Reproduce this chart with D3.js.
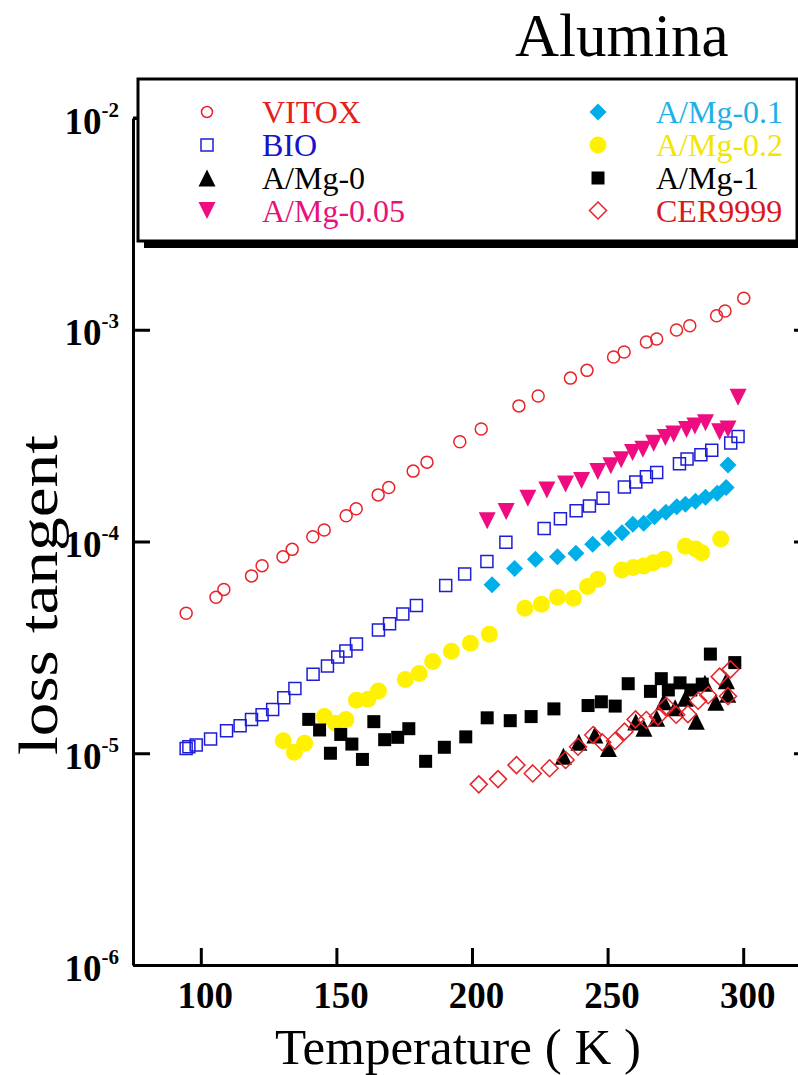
<!DOCTYPE html>
<html>
<head>
<meta charset="utf-8">
<script src="https://cdn.jsdelivr.net/npm/d3@7"></script>
<style>
  body { margin: 0; background: #fff; }
  text { font-family: "Liberation Serif", "Times New Roman", serif; }
</style>
</head>
<body>
<div id="d3-container"></div>
<script>
/**
 * CONSTANTS AND GLOBALS
 * */
const width = 798,
  height = 1075,
  margin = { top: 118, bottom: 110, left: 133, right: -13 };

/**
 * DATA
 * */
const vitoxT = [94.6, 105.6, 108.5, 118.7, 122.6, 130.3, 133.7, 141.3, 145.5, 153.6, 157.3, 165.4, 169.3, 178.3, 183.4, 195.5, 203.4, 217.3, 224.4, 236.3, 242.4, 252.2, 256.1, 264.3, 268.1, 275.4, 280.3, 290.2, 293.3, 300.2];
const vitoxV = [4.58e-5, 5.45e-5, 5.94e-5, 6.88e-5, 7.69e-5, 8.48e-5, 9.18e-5, 1.054e-4, 1.133e-4, 1.324e-4, 1.429e-4, 1.66e-4, 1.80e-4, 2.15e-4, 2.37e-4, 2.96e-4, 3.40e-4, 4.37e-4, 4.87e-4, 5.91e-4, 6.43e-4, 7.43e-4, 7.85e-4, 8.75e-4, 9.04e-4, 9.97e-4, 1.045e-3, 1.164e-3, 1.227e-3, 1.41e-3];

const bioT = [94.6, 95.6, 98.3, 103.6, 109.5, 114.5, 118.7, 122.6, 126.5, 130.6, 134.7, 141.4, 146.7, 150.5, 153.5, 157.4, 165.5, 169.6, 174.5, 179.5, 190.3, 197.3, 205.5, 212.5, 226.6, 232.6, 238.4, 243.3, 248.3, 256.2, 260.4, 264.3, 268.1, 276.5, 279.3, 284.4, 288.4, 295.4, 298.1];
const bioV = [1.054e-5, 1.074e-5, 1.094e-5, 1.167e-5, 1.277e-5, 1.348e-5, 1.445e-5, 1.52e-5, 1.61e-5, 1.83e-5, 2.02e-5, 2.36e-5, 2.58e-5, 2.85e-5, 3.04e-5, 3.28e-5, 3.82e-5, 4.09e-5, 4.55e-5, 4.98e-5, 6.19e-5, 7.03e-5, 8.04e-5, 9.91e-5, 1.153e-4, 1.282e-4, 1.398e-4, 1.472e-4, 1.60e-4, 1.81e-4, 1.91e-4, 2.02e-4, 2.12e-4, 2.33e-4, 2.45e-4, 2.57e-4, 2.70e-4, 2.92e-4, 3.13e-4];

const mg005T = [205.6, 212.6, 220.6, 227.6, 234.5, 240.4, 246.4, 251.2, 255.0, 259.2, 263.0, 267.0, 271.3, 274.4, 279.1, 282.2, 286.1, 291.3, 294.4, 298.1];
const mg005V = [1.253e-4, 1.384e-4, 1.60e-4, 1.75e-4, 1.87e-4, 1.94e-4, 2.14e-4, 2.28e-4, 2.43e-4, 2.63e-4, 2.73e-4, 2.91e-4, 3.10e-4, 3.22e-4, 3.38e-4, 3.51e-4, 3.64e-4, 3.30e-4, 3.40e-4, 4.80e-4];

const mg01T = [207.4, 215.7, 223.4, 231.5, 238.3, 244.5, 250.4, 255.3, 259.3, 263.3, 267.3, 271.5, 275.5, 278.7, 282.4, 286.1, 290.4, 293.7, 294.4];
const mg01V = [6.24e-5, 7.46e-5, 8.24e-5, 8.48e-5, 8.80e-5, 9.70e-5, 1.035e-4, 1.10e-4, 1.206e-4, 1.22e-4, 1.31e-4, 1.374e-4, 1.46e-4, 1.50e-4, 1.55e-4, 1.62e-4, 1.69e-4, 1.80e-4, 2.30e-4];

const mg02T = [130.4, 134.5, 138.3, 145.6, 149.7, 153.5, 157.4, 161.6, 165.5, 175.4, 180.5, 185.5, 192.4, 199.4, 206.4, 219.5, 225.6, 231.5, 237.4, 242.6, 246.4, 255.2, 259.5, 263.3, 266.9, 270.9, 278.7, 282.5, 284.7, 291.7];
const mg02V = [1.145e-5, 1.01e-5, 1.114e-5, 1.49e-5, 1.384e-5, 1.445e-5, 1.78e-5, 1.80e-5, 1.97e-5, 2.23e-5, 2.38e-5, 2.71e-5, 3.03e-5, 3.31e-5, 3.65e-5, 4.84e-5, 5.05e-5, 5.45e-5, 5.39e-5, 6.13e-5, 6.63e-5, 7.33e-5, 7.53e-5, 7.66e-5, 7.94e-5, 8.24e-5, 9.49e-5, 9.22e-5, 8.86e-5, 1.028e-4];

const mg1T = [139.8, 143.8, 147.8, 151.6, 155.7, 159.6, 163.8, 167.8, 172.6, 176.7, 182.9, 189.8, 197.7, 205.6, 214.1, 221.8, 230.2, 242.8, 247.7, 252.8, 257.6, 265.8, 269.8, 272.4, 276.7, 280.7, 284.9, 287.9, 296.9];
const mg1V = [1.445e-5, 1.288e-5, 1.00e-5, 1.227e-5, 1.105e-5, 9.35e-6, 1.41e-5, 1.159e-5, 1.189e-5, 1.306e-5, 9.16e-6, 1.067e-5, 1.195e-5, 1.47e-5, 1.425e-5, 1.49e-5, 1.62e-5, 1.68e-5, 1.75e-5, 1.67e-5, 2.13e-5, 1.96e-5, 2.25e-5, 1.99e-5, 2.15e-5, 1.99e-5, 2.12e-5, 2.94e-5, 2.68e-5];

const mg0T = [233.7, 239.4, 245.3, 250.3, 260.4, 263.4, 268.1, 270.7, 274.9, 278.7, 282.7, 285.9, 289.9, 293.8, 294.3];
const mg0V = [9.68e-6, 1.127e-5, 1.219e-5, 1.054e-5, 1.406e-5, 1.312e-5, 1.462e-5, 1.75e-5, 1.64e-5, 1.82e-5, 1.416e-5, 2.14e-5, 1.74e-5, 2.20e-5, 1.90e-5];

const cerT = [202.5, 209.6, 216.4, 222.4, 228.6, 234.5, 239.1, 244.7, 248.0, 252.7, 256.2, 260.3, 264.3, 268.6, 271.7, 275.3, 279.6, 283.4, 287.1, 291.3, 294.4, 295.3];
const cerV = [7.13e-6, 7.55e-6, 8.79e-6, 8.03e-6, 8.49e-6, 9.29e-6, 1.074e-5, 1.219e-5, 1.127e-5, 1.143e-5, 1.265e-5, 1.445e-5, 1.435e-5, 1.49e-5, 1.67e-5, 1.52e-5, 1.53e-5, 1.77e-5, 1.88e-5, 2.30e-5, 1.86e-5, 2.49e-5];

const xTicks = [100, 150, 200, 250, 300];
const yTicks = [1e-2, 1e-3, 1e-4, 1e-5, 1e-6];

/**
 * MARKER SHAPES
 * size is used as the full width of the marker, not an area
 * */
const shapes = {
  circle: { draw(ctx, w) { ctx.moveTo(w / 2, 0); ctx.arc(0, 0, w / 2, 0, 2 * Math.PI); } },
  square: { draw(ctx, w) { ctx.rect(-w / 2, -w / 2, w, w); } },
  triUp: { draw(ctx, w) { ctx.moveTo(0, -w / 2); ctx.lineTo(w / 2, w / 2); ctx.lineTo(-w / 2, w / 2); ctx.closePath(); } },
  triDown: { draw(ctx, w) { ctx.moveTo(-w / 2, -w / 2); ctx.lineTo(w / 2, -w / 2); ctx.lineTo(0, w / 2); ctx.closePath(); } },
  diamond: { draw(ctx, w) { ctx.moveTo(0, -w / 2); ctx.lineTo(w / 2, 0); ctx.lineTo(0, w / 2); ctx.lineTo(-w / 2, 0); ctx.closePath(); } },
};

// draw order follows the reference (diamonds end up on top)
const series = [
  { name: "VITOX", T: vitoxT, V: vitoxV, shape: "circle", size: 12, fill: "none", stroke: "#e8232a", text: "#e3201b", legend: [0, 0] },
  { name: "BIO", T: bioT, V: bioV, shape: "square", size: 12, fill: "none", stroke: "#1e1ed6", text: "#1414cc", legend: [0, 1] },
  { name: "A/Mg-0.05", T: mg005T, V: mg005V, shape: "triDown", size: 17, fill: "#ee0c80", stroke: "none", text: "#e8127c", legend: [0, 3] },
  { name: "A/Mg-0.1", T: mg01T, V: mg01V, shape: "diamond", size: 17, fill: "#00aee8", stroke: "none", text: "#1eb0e6", legend: [1, 0] },
  { name: "A/Mg-0.2", T: mg02T, V: mg02V, shape: "circle", size: 17, fill: "#fff200", stroke: "none", text: "#f2e600", legend: [1, 1] },
  { name: "A/Mg-1", T: mg1T, V: mg1V, shape: "square", size: 13, fill: "#000", stroke: "none", text: "#000", legend: [1, 2] },
  { name: "A/Mg-0", T: mg0T, V: mg0V, shape: "triUp", size: 17, fill: "#000", stroke: "none", text: "#000", legend: [0, 2] },
  { name: "CER9999", T: cerT, V: cerV, shape: "diamond", size: 17, fill: "none", stroke: "#e8232a", text: "#d81a1a", legend: [1, 3] },
];

/**
 * SCALES
 * */
const x = d3.scaleLinear().domain([75, 325]).range([margin.left, width - margin.right]);
const y = d3.scaleLog().domain([1e-6, 1e-2]).range([height - margin.bottom, margin.top]);

const svg = d3.select("#d3-container")
  .append("svg")
  .attr("width", width)
  .attr("height", height);

/**
 * AXES (ticks point inward)
 * */
const axisStyle = g => {
  g.select(".domain").attr("stroke-width", 3);
  g.selectAll(".tick line").attr("stroke-width", 3);
};

svg.append("g")
  .attr("transform", `translate(0,${y(1e-6)})`)
  .call(d3.axisBottom(x).tickValues(xTicks).tickSizeInner(-17).tickSizeOuter(0))
  .call(axisStyle)
  .call(g => g.selectAll(".tick text")
    .attr("y", 43).attr("dy", null).attr("dx", 4)
    .attr("font-size", 37).attr("font-weight", "bold")
    .attr("font-family", "Liberation Serif, serif"));

svg.append("g")
  .attr("transform", `translate(${margin.left},0)`)
  .call(d3.axisLeft(y).tickValues(yTicks).tickSizeInner(-17).tickSizeOuter(0).tickFormat(""))
  .call(axisStyle);

svg.append("g")
  .attr("transform", `translate(${width - margin.right},0)`)
  .call(d3.axisRight(y).tickValues(yTicks).tickSizeInner(-17).tickSizeOuter(0).tickFormat(""))
  .call(axisStyle);

// top frame line (mostly hidden behind the legend)
svg.append("line")
  .attr("x1", margin.left).attr("x2", width - margin.right)
  .attr("y1", y(1e-2)).attr("y2", y(1e-2))
  .attr("stroke", "#000").attr("stroke-width", 3);

// y tick labels as 10 with a superscript exponent
const yLab = svg.append("g")
  .selectAll("text")
  .data(yTicks)
  .join("text")
  .attr("x", 119)
  .attr("y", d => y(d) + 15.5)
  .attr("text-anchor", "end")
  .attr("font-weight", "bold");
yLab.append("tspan").attr("font-size", 37).text("10");
yLab.append("tspan").attr("font-size", 21).attr("dy", -17).text(d => Math.round(Math.log10(d)));

/**
 * DATA POINTS
 * */
const symbol = d3.symbol();

series.forEach(s => {
  svg.append("g")
    .selectAll("path")
    .data(d3.zip(s.T, s.V))
    .join("path")
    .attr("transform", d => `translate(${x(d[0])},${y(d[1])})`)
    .attr("d", symbol.type(shapes[s.shape]).size(s.size)())
    .attr("fill", s.fill)
    .attr("stroke", s.stroke)
    .attr("stroke-width", 1.5);
});

/**
 * LEGEND
 * */
const lg = { x: 138, y: 79, w: 659, h: 162 };

svg.append("rect")
  .attr("x", lg.x + 6).attr("y", lg.y + 7)
  .attr("width", lg.w).attr("height", lg.h)
  .attr("fill", "#000");
svg.append("rect")
  .attr("x", lg.x).attr("y", lg.y)
  .attr("width", lg.w).attr("height", lg.h)
  .attr("fill", "#fff").attr("stroke", "#000").attr("stroke-width", 3);

const colSym = [207, 598],
  colText = [262, 656],
  rowY = [112, 145, 178, 210.5];

const items = svg.append("g")
  .selectAll("g")
  .data(series)
  .join("g");

items.append("path")
  .attr("transform", d => `translate(${colSym[d.legend[0]]},${rowY[d.legend[1]]})`)
  .attr("d", d => symbol.type(shapes[d.shape]).size(d.shape === "circle" && d.fill === "none" ? 11 : d.size)())
  .attr("fill", d => d.fill)
  .attr("stroke", d => d.stroke)
  .attr("stroke-width", 1.5);

items.append("text")
  .attr("x", d => colText[d.legend[0]])
  .attr("y", d => rowY[d.legend[1]] + 11)
  .attr("font-size", 32)
  .attr("fill", d => d.text)
  .text(d => d.name);

/**
 * TITLES
 * */
svg.append("text")
  .attr("x", 515).attr("y", 56)
  .attr("font-size", 61)
  .text("Alumina");

svg.append("text")
  .attr("x", 458).attr("y", 1064)
  .attr("text-anchor", "middle")
  .attr("font-size", 51)
  .text("Temperature ( K )");

svg.append("text")
  .attr("transform", "translate(57,595) rotate(-90)")
  .attr("text-anchor", "middle")
  .attr("font-size", 54)
  .attr("textLength", 320)
  .attr("lengthAdjust", "spacingAndGlyphs")
  .text("loss tangent");
</script>
</body>
</html>
